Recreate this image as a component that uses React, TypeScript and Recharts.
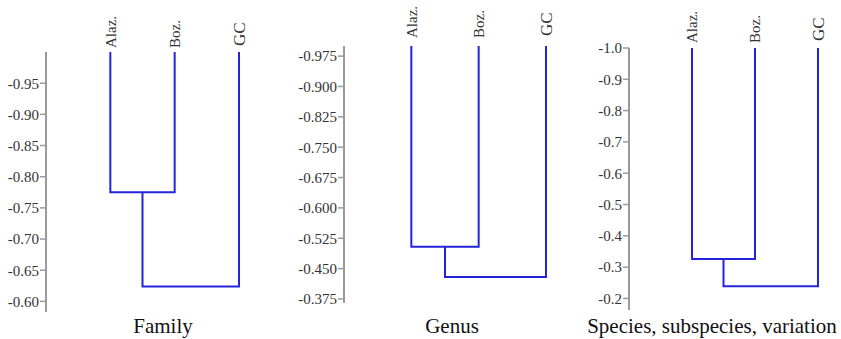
import { LineChart, Line, XAxis, YAxis } from "recharts";

const leafLabels = ["Alaz.", "Boz.", "GC"];
const leafPositions = [1, 2, 3];

// merge heights: [Alaz.+Boz., (Alaz.+Boz.)+GC]
const familyMerges = [-0.775, -0.624];
const genusMerges = [-0.504, -0.429];
const speciesMerges = [-0.326, -0.239];

const familyTicks = [-0.95, -0.9, -0.85, -0.8, -0.75, -0.7, -0.65, -0.6];
const genusTicks = [-0.975, -0.9, -0.825, -0.75, -0.675, -0.6, -0.525, -0.45, -0.375];
const speciesTicks = [-1.0, -0.9, -0.8, -0.7, -0.6, -0.5, -0.4, -0.3, -0.2];

const familyDomain = [-1.0, -0.583];
const genusDomain = [-1.0, -0.365];
const speciesDomain = [-1.0, -0.163];

const titles = ["Family", "Genus", "Species, subspecies, variation"];

const LINE = "#2424dc";
const AXIS = "#9a9a9a";
const FONT = "'Liberation Serif', 'DejaVu Serif', serif";
const LABEL_BAND = 44;

const buildLinks = (merges: number[], top: number) => {
  const [a, b, c] = leafPositions;
  const mid = (a + b) / 2;
  return [
    [
      { x: a, y: top },
      { x: a, y: merges[0] },
      { x: b, y: merges[0] },
      { x: b, y: top },
    ],
    [
      { x: mid, y: merges[0] },
      { x: mid, y: merges[1] },
      { x: c, y: merges[1] },
      { x: c, y: top },
    ],
  ];
};

const LeafTick = (props: any) => {
  const { x, payload, baseY } = props;
  const label = leafLabels[leafPositions.indexOf(payload.value)];
  const big = label === "GC";
  return (
    <text
      transform={`translate(${x},${big ? baseY - 2 : baseY}) rotate(-90)`}
      textAnchor="start"
      dy="0.35em"
      fontSize={big ? 17 : 15}
      fontFamily={FONT}
      fill="#333"
    >
      {label}
    </text>
  );
};

type PanelProps = {
  left: number;
  width: number;
  axisX: number;
  rightX: number;
  topY: number;
  bottomY: number;
  labelGap: number;
  merges: number[];
  ticks: number[];
  domain: number[];
  digits: number;
};

const Panel = (p: PanelProps) => {
  const links = buildLinks(p.merges, p.domain[0]);
  return (
    <div style={{ position: "absolute", left: p.left, top: 0 }}>
      <LineChart
        width={p.width}
        height={339}
        margin={{
          top: p.topY - LABEL_BAND,
          left: 0,
          right: p.left + p.width - p.rightX,
          bottom: 339 - p.bottomY,
        }}
      >
        <XAxis
          orientation="top"
          type="number"
          dataKey="x"
          domain={[0, 3]}
          ticks={leafPositions}
          height={LABEL_BAND}
          axisLine={false}
          tickLine={false}
          tick={(t: any) => <LeafTick {...t} baseY={p.topY - p.labelGap} />}
          interval={0}
        />
        <YAxis
          type="number"
          width={p.axisX - p.left}
          reversed
          domain={p.domain}
          ticks={p.ticks}
          interval={0}
          tickFormatter={(v: number) => v.toFixed(p.digits)}
          axisLine={{ stroke: AXIS, strokeWidth: 2 }}
          tickLine={{ stroke: AXIS, strokeWidth: 1.5 }}
          tickSize={6}
          tickMargin={1}
          tick={{ fill: "#333", fontSize: 15, fontFamily: FONT }}
        />
        {links.map((d, i) => (
          <Line
            key={i}
            data={d}
            dataKey="y"
            type="linear"
            stroke={LINE}
            strokeWidth={2}
            dot={false}
            activeDot={false}
            isAnimationActive={false}
          />
        ))}
      </LineChart>
    </div>
  );
};

const Title = ({ text, cx }: { text: string; cx: number }) => (
  <div
    style={{
      position: "absolute",
      left: cx - 160,
      width: 320,
      top: 314,
      textAlign: "center",
      fontFamily: FONT,
      fontSize: 21,
      color: "#111",
      whiteSpace: "nowrap",
    }}
  >
    {text}
  </div>
);

export default function App() {
  return (
    <div
      style={{
        position: "absolute",
        left: 0,
        top: 0,
        width: 841,
        height: 339,
        background: "#fff",
        overflow: "hidden",
      }}
    >
      <Panel
        left={0}
        width={270}
        axisX={46}
        rightX={239}
        topY={52}
        bottomY={312}
        labelGap={4}
        merges={familyMerges}
        ticks={familyTicks}
        domain={familyDomain}
        digits={2}
      />
      <Panel
        left={280}
        width={280}
        axisX={344}
        rightX={546}
        topY={46}
        bottomY={303}
        labelGap={8}
        merges={genusMerges}
        ticks={genusTicks}
        domain={genusDomain}
        digits={3}
      />
      <Panel
        left={560}
        width={281}
        axisX={629}
        rightX={818}
        topY={48}
        bottomY={310}
        labelGap={5}
        merges={speciesMerges}
        ticks={speciesTicks}
        domain={speciesDomain}
        digits={1}
      />
      <Title text={titles[0]} cx={163} />
      <Title text={titles[1]} cx={452} />
      <Title text={titles[2]} cx={712} />
    </div>
  );
}
